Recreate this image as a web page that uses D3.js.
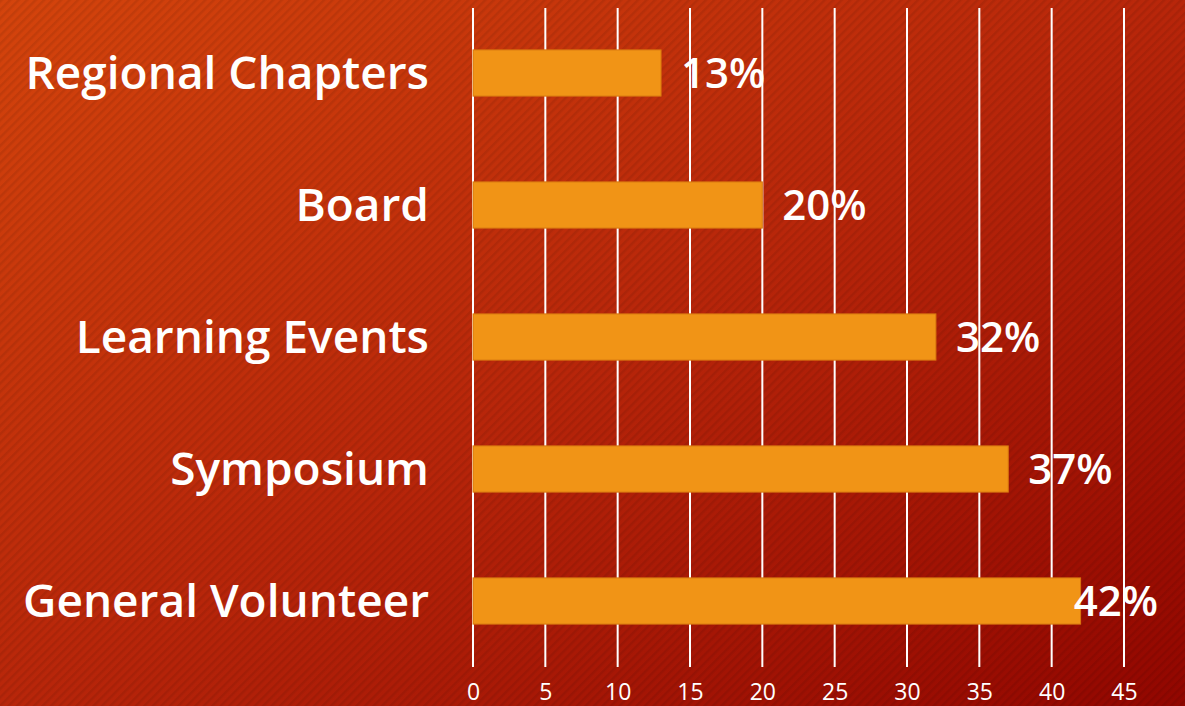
<!DOCTYPE html>
<html>
<head>
<meta charset="utf-8">
<script src="https://cdn.jsdelivr.net/npm/d3@7"></script>
<style>
  html, body { margin: 0; padding: 0; overflow: hidden; }
  svg { display: block; }
</style>
</head>
<body>
<div id="chart"></div>
<script>
var categories = ['Regional Chapters', 'Board', 'Learning Events', 'Symposium', 'General Volunteer'];
var values = [13, 20, 32, 37, 42];
var tickValues = [0, 5, 10, 15, 20, 25, 30, 35, 40, 45];

var width = 1185, height = 706;
var plotLeft = 473, plotRight = 1124, plotTop = 7, plotBottom = 667;

var svg = d3.select('#chart').append('svg')
    .attr('width', width)
    .attr('height', height);

var defs = svg.append('defs');

// background gradient
var grad = defs.append('linearGradient')
    .attr('id', 'bg')
    .attr('x1', '0%').attr('y1', '0%')
    .attr('x2', '100%').attr('y2', '100%');
grad.append('stop').attr('offset', '0%').attr('stop-color', '#d4440c');
grad.append('stop').attr('offset', '50%').attr('stop-color', '#b8260a');
grad.append('stop').attr('offset', '100%').attr('stop-color', '#920600');

// thin diagonal stripes
var pat = defs.append('pattern')
    .attr('id', 'stripes')
    .attr('width', 6).attr('height', 6)
    .attr('patternUnits', 'userSpaceOnUse')
    .attr('patternTransform', 'rotate(45)');
pat.append('rect')
    .attr('width', 2.5).attr('height', 6)
    .attr('fill', 'rgba(0,0,0,0.08)');

svg.append('rect').attr('width', width).attr('height', height).attr('fill', 'url(#bg)');
svg.append('rect').attr('width', width).attr('height', height).attr('fill', 'url(#stripes)');

var x = d3.scaleLinear().domain([0, 45]).range([plotLeft, plotRight]);
var y = d3.scaleBand().domain(categories).range([plotTop, plotBottom])
    .paddingInner(0.65).paddingOuter(0.325);

// gridlines
svg.append('g').selectAll('line')
    .data(tickValues)
    .enter().append('line')
    .attr('x1', function(d) { return x(d); })
    .attr('x2', function(d) { return x(d); })
    .attr('y1', 8)
    .attr('y2', plotBottom)
    .attr('stroke', '#ffffff')
    .attr('stroke-width', 2);

// x axis labels
var xAxis = svg.append('g')
    .attr('transform', 'translate(0,' + plotBottom + ')')
    .call(d3.axisBottom(x).tickValues(tickValues).tickSize(0).tickPadding(17));
xAxis.select('.domain').remove();
xAxis.selectAll('text')
    .attr('fill', '#ffffff')
    .style('font-family', '"Open Sans", sans-serif')
    .style('font-size', '23px');

// bars
svg.append('g').selectAll('rect')
    .data(values)
    .enter().append('rect')
    .attr('x', x(0))
    .attr('y', function(d, i) { return y(categories[i]); })
    .attr('width', function(d) { return x(d) - x(0); })
    .attr('height', y.bandwidth())
    .attr('fill', '#f19416')
    .attr('stroke', '#d8760f')
    .attr('stroke-width', 1);

// category labels
svg.append('g').selectAll('text')
    .data(categories)
    .enter().append('text')
    .attr('x', 429)
    .attr('y', function(d) { return y(d) + y.bandwidth() / 2; })
    .attr('dy', '0.35em')
    .attr('text-anchor', 'end')
    .attr('fill', '#ffffff')
    .style('font-family', '"Open Sans", sans-serif')
    .style('font-weight', 600)
    .style('font-size', '46px')
    .text(function(d) { return d; });

// value labels, pulled back in if they'd run off the right
var vl = svg.append('g').selectAll('text')
    .data(values)
    .enter().append('text')
    .attr('y', function(d, i) { return y(categories[i]) + y.bandwidth() / 2; })
    .attr('dy', '0.35em')
    .attr('fill', '#ffffff')
    .style('font-family', '"Open Sans", sans-serif')
    .style('font-weight', 600)
    .style('font-size', '42px')
    .text(function(d) { return d + '%'; });
vl.attr('x', function(d) {
    var w = this.getComputedTextLength();
    return Math.min(x(d) + 20, 1158 - w);
});
</script>
</body>
</html>
